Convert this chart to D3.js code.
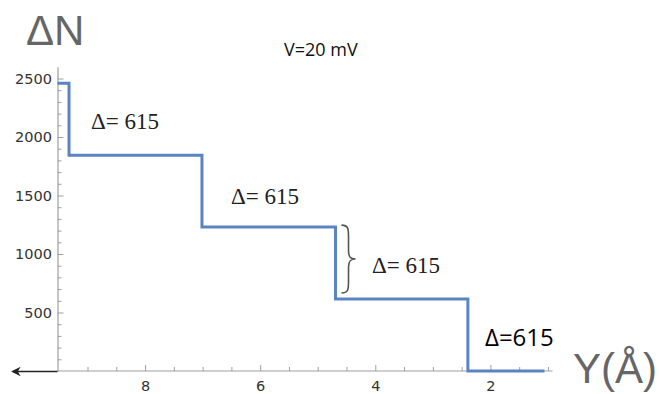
<!DOCTYPE html>
<html>
<head>
<meta charset="utf-8">
<script src="https://cdn.jsdelivr.net/npm/d3@7"></script>
<style>
  body { margin: 0; background: #fff; }
  svg { display: block; }
</style>
</head>
<body>
<svg id="canvas" width="659" height="394"></svg>
<script>
// step positions (Y in Angstrom) and the ΔN levels between them
let stepX = [9.53, 9.33, 7.02, 4.70, 2.40, 1.07]
let stepN = [2460, 1845, 1230, 615, 0]

let yTicks = [500, 1000, 1500, 2000, 2500]
let xTicks = [8, 6, 4, 2]
let deltaLabels = ['Δ= 615', 'Δ= 615', 'Δ= 615', 'Δ=615']

let canvas = d3.select('#canvas')

let xScale = d3.scaleLinear().domain([9.53, 0.93]).range([57.5, 552.5])
let yScale = d3.scaleLinear().domain([0, 2600]).range([371, 66.8])

let axisColor = '#a0a0a0'

// y axis
let yAxis = d3.axisLeft(yScale)
    .tickValues(d3.range(100, 2600, 100))
    .tickSize(0)
    .tickFormat('')
let gy = canvas.append('g').attr('transform', 'translate(57.5,0)').call(yAxis)
gy.select('.domain').attr('stroke', axisColor).attr('stroke-width', 1.2)
gy.selectAll('.tick line')
    .attr('x2', (d) => yTicks.includes(d) ? 6 : 4)
    .attr('stroke', axisColor)

canvas.selectAll('.ylab')
    .data(yTicks)
    .enter()
    .append('text')
    .attr('x', 52)
    .attr('y', (d) => yScale(d) + 5)
    .attr('text-anchor', 'end')
    .attr('font-family', 'DejaVu Sans, sans-serif')
    .attr('font-size', 14.5)
    .attr('fill', '#333')
    .text((d) => d)

// x axis
let xMinor = d3.range(1, 9.5, 0.5)
let gx = canvas.append('g').attr('transform', 'translate(0,371)')
gx.append('line')
    .attr('x1', xScale(9.53)).attr('x2', xScale(0.93))
    .attr('stroke', axisColor).attr('stroke-width', 1.2)
gx.selectAll('.xt')
    .data(xMinor)
    .enter()
    .append('line')
    .attr('x1', (d) => xScale(d))
    .attr('x2', (d) => xScale(d))
    .attr('y1', 0)
    .attr('y2', (d) => xTicks.includes(d) ? -6 : -4)
    .attr('stroke', axisColor)

canvas.selectAll('.xlab')
    .data(xTicks)
    .enter()
    .append('text')
    .attr('x', (d) => xScale(d))
    .attr('y', 391)
    .attr('text-anchor', 'middle')
    .attr('font-family', 'DejaVu Sans, sans-serif')
    .attr('font-size', 14.5)
    .attr('fill', '#333')
    .text((d) => d)

// arrow to the left of the origin
canvas.append('defs').append('marker')
    .attr('id', 'arr')
    .attr('viewBox', '0 0 10 10')
    .attr('refX', 8).attr('refY', 5)
    .attr('markerWidth', 6).attr('markerHeight', 6)
    .attr('orient', 'auto')
    .append('path')
    .attr('d', 'M0,0 L10,5 L0,10 L3,5 Z')
    .attr('fill', '#222')
canvas.append('line')
    .attr('x1', 57.5).attr('x2', 13)
    .attr('y1', 371.5).attr('y2', 371.5)
    .attr('stroke', '#222').attr('stroke-width', 1.6)
    .attr('marker-end', 'url(#arr)')

// step line
let pts = []
stepN.forEach((n, i) => {
    pts.push([xScale(stepX[i]), yScale(n)])
    pts.push([xScale(stepX[i + 1]), yScale(n)])
})
canvas.append('path')
    .attr('d', d3.line()(pts))
    .attr('fill', 'none')
    .attr('stroke', '#5b84c2')
    .attr('stroke-width', 3)

// titles
canvas.append('text')
    .attr('x', 26).attr('y', 45)
    .attr('font-family', 'Liberation Sans, Arial, sans-serif')
    .attr('font-size', 42)
    .attr('fill', '#666')
    .text('ΔN')

canvas.append('text')
    .attr('x', 284).attr('y', 56)
    .attr('font-family', 'Open Sans, sans-serif')
    .attr('font-size', 18)
    .attr('fill', '#111')
    .text('V=20 mV')

canvas.append('text')
    .attr('x', 573).attr('y', 383)
    .attr('font-family', 'Liberation Sans, Arial, sans-serif')
    .attr('font-size', 42)
    .attr('fill', '#666')
    .text('Y(Å)')

// delta annotations
let labelPos = [[91, 129], [231, 204], [372, 273], [485, 346]]
canvas.selectAll('.dl')
    .data(deltaLabels)
    .enter()
    .append('text')
    .attr('x', (d, i) => labelPos[i][0])
    .attr('y', (d, i) => labelPos[i][1])
    .attr('font-family', (d, i) => i < 3 ? 'Liberation Serif, serif' : 'Open Sans, sans-serif')
    .attr('font-size', (d, i) => i < 3 ? 23 : 24)
    .attr('fill', (d, i) => i < 3 ? '#222' : '#000')
    .text((d) => d)

// brace between the 1230 and 615 levels
let bx = xScale(stepX[3]) + 6
let bTop = yScale(stepN[2]) - 2
let bBot = yScale(stepN[3]) - 6
let bMid = (bTop + bBot) / 2
canvas.append('path')
    .attr('d', `M${bx},${bTop} C${bx + 7},${bTop} ${bx + 7},${bTop + 4} ${bx + 7},${bTop + 12}
                L${bx + 7},${bMid - 8} C${bx + 7},${bMid - 2} ${bx + 9},${bMid} ${bx + 14},${bMid}
                C${bx + 9},${bMid} ${bx + 7},${bMid + 2} ${bx + 7},${bMid + 8}
                L${bx + 7},${bBot - 12} C${bx + 7},${bBot - 4} ${bx + 7},${bBot} ${bx},${bBot}`)
    .attr('fill', 'none')
    .attr('stroke', '#555')
    .attr('stroke-width', 1.6)
</script>
</body>
</html>
